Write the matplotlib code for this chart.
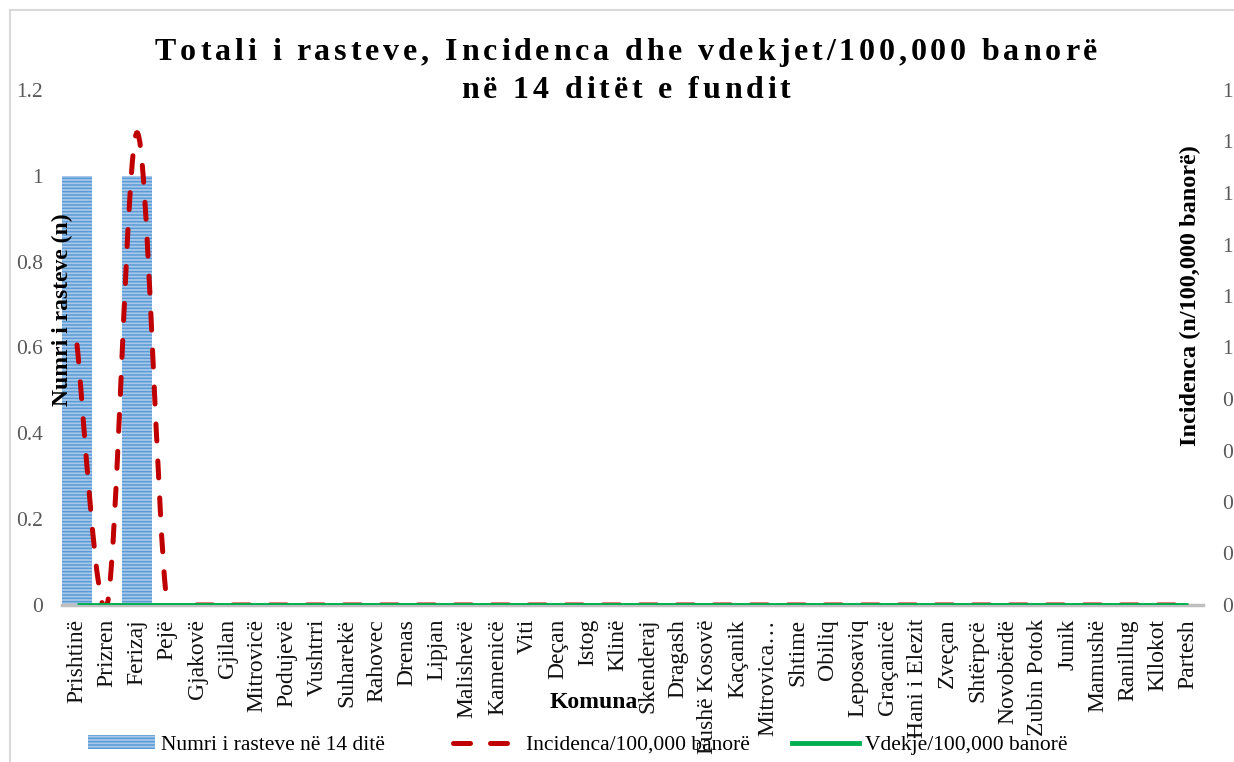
import matplotlib
matplotlib.use("Agg")
import matplotlib.pyplot as plt
from matplotlib.path import Path
from matplotlib.patches import PathPatch, Rectangle, Patch
from matplotlib.lines import Line2D
from matplotlib.ticker import FuncFormatter
from matplotlib.font_manager import FontProperties, findfont
from matplotlib.ft2font import FT2Font
import numpy as np

# Komunat
komunat = ["Prishtinë", "Prizren", "Ferizaj", "Pejë", "Gjakovë", "Gjilan", "Mitrovicë",
           "Podujevë", "Vushtrri", "Suharekë", "Rahovec", "Drenas", "Lipjan", "Malishevë",
           "Kamenicë", "Viti", "Deçan", "Istog", "Klinë", "Skenderaj", "Dragash",
           "Fushë Kosovë", "Kaçanik", "Mitrovica…", "Shtime", "Obiliq", "Leposaviq",
           "Graçanicë", "Hani i Elezit", "Zveçan", "Shtërpcë", "Novobërdë", "Zubin Potok",
           "Junik", "Mamushë", "Ranillug", "Kllokot", "Partesh"]

# Numri i rasteve ne 14 dite
rastet = [1, 0, 1] + [0] * 35
# Incidenca / 100,000 banore
incidenca = [0.505, 0, 0.917] + [0] * 35
# Vdekje / 100,000 banore
vdekje = [0] * 38

left_ticks = [0, 0.2, 0.4, 0.6, 0.8, 1.0, 1.2]
right_ticks = [0, 0.1, 0.2, 0.3, 0.4, 0.5, 0.6, 0.7, 0.8, 0.9, 1.0]

title_lines = ["Totali i rasteve, Incidenca dhe vdekjet/100,000 banorë",
               "në 14 ditët e fundit"]

SERIF = ["Liberation Serif", "DejaVu Serif"]
plt.rcParams["font.family"] = SERIF
plt.rcParams["hatch.linewidth"] = 1.1

W, H = 1234, 762
DPI = 100
fig = plt.figure(figsize=(W / DPI, H / DPI), dpi=DPI)
ax = fig.add_axes([62 / W, 1 - 605 / H, (1203 - 62) / W, (605 - 90) / H])
ax2 = ax.twinx()

x = np.arange(len(komunat))

# bars (left axis)
ax.bar(x, rastet, width=0.98, color="#a7c8ea", edgecolor="#5b9bd5", linewidth=0,
       hatch="-----", zorder=2)
ax.set_xlim(-0.5, len(komunat) - 0.5)
ax.set_ylim(0, 1.2)
ax.set_yticks(left_ticks)
ax.yaxis.set_major_formatter(FuncFormatter(lambda v, p: f"{v:g}"))
ax.tick_params(axis="y", length=0, pad=13.5, labelsize=15.5, labelcolor="#595959")
ax.set_xticks(x)
ax.set_xticklabels(komunat, rotation=90, fontsize=17, color="#111111")
ax.tick_params(axis="x", length=0, pad=10)
for s in ["top", "left", "right"]:
    ax.spines[s].set_visible(False)
ax.spines["bottom"].set_color("#bfbfbf")
ax.spines["bottom"].set_linewidth(2.5)

# smoothed incidence line (right axis), bezier smoothing like Excel
yv = np.array(incidenca, dtype=float)
n = len(yv)
verts = [(x[0], yv[0])]
codes = [Path.MOVETO]
for i in range(n - 1):
    p0 = yv[max(i - 1, 0)]
    p3 = yv[min(i + 2, n - 1)]
    x0 = x[max(i - 1, 0)]
    x3 = x[min(i + 2, n - 1)]
    c1 = (x[i] + (x[i + 1] - x0) / 6, yv[i] + (yv[i + 1] - p0) / 6)
    c2 = (x[i + 1] - (x3 - x[i]) / 6, yv[i + 1] - (p3 - yv[i]) / 6)
    verts += [c1, c2, (x[i + 1], yv[i + 1])]
    codes += [Path.CURVE4] * 3
red_dash = (0, (3.4, 4.0))
curve = PathPatch(Path(verts, codes), facecolor="none", edgecolor="#c00000",
                  linewidth=3.6, linestyle=red_dash, capstyle="round", zorder=3)
ax2.add_patch(curve)
ax2.plot(x, vdekje, color="#00b050", linewidth=3.5, solid_capstyle="butt", zorder=4)
ax2.set_ylim(0, 1.0)
ax2.set_yticks(right_ticks)
ax2.yaxis.set_major_formatter(FuncFormatter(lambda v, p: str(int(np.floor(v + 0.5 + 1e-9)))))
ax2.tick_params(axis="y", length=0, pad=13.5, labelsize=15.5, labelcolor="#595959")
for s in ["top", "left", "right", "bottom"]:
    ax2.spines[s].set_visible(False)

# axis titles (placed like in the original)
fig.text(62 / W, 1 - 310 / H, "Numri i rasteve (n)", rotation=90, ha="center", va="center",
         fontsize=17, fontweight="bold")
fig.text(1190 / W, 1 - 296 / H, "Incidenca (n/100,000 banorë)", rotation=90, ha="center",
         va="center", fontsize=17.5, fontweight="bold")
fig.text(594 / W, 1 - 703 / H, "Komuna", ha="center", va="center", fontsize=17,
         fontweight="bold")

# title with letter spacing (chars placed one by one)
tsize = 23
tprops = FontProperties(family="Liberation Serif", weight="bold", size=tsize)
tfont = FT2Font(findfont(tprops))
tfont.set_size(tsize, DPI)


def advances(s):
    return [tfont.load_char(ord(c)).linearHoriAdvance / 65536 for c in s]


adv0 = advances(title_lines[0])
track = (942 - sum(adv0)) / (len(title_lines[0]) - 1)
for line, yc in zip(title_lines, [49, 87]):
    adv = advances(line)
    total = sum(adv) + track * (len(line) - 1)
    xp = 626 - total / 2
    for c, a in zip(line, adv):
        if c != " ":
            fig.text(xp / W, 1 - yc / H, c, ha="left", va="center_baseline",
                     fontproperties=tprops)
        xp += a + track

# legend entries
h_bar = Patch(facecolor="#a7c8ea", edgecolor="#5b9bd5", linewidth=0, hatch="-----")
h_inc = Line2D([], [], color="#c00000", linewidth=3.6, linestyle=red_dash,
               dash_capstyle="round")
h_vd = Line2D([], [], color="#00b050", linewidth=3.5)
entries = [(h_bar, "Numri i rasteve në 14 ditë", 88),
           (h_inc, "Incidenca/100,000 banorë", 453),
           (h_vd, "Vdekje/100,000 banorë", 792)]
for h, lab, xl in entries:
    fig.legend([h], [lab], loc="center left", bbox_to_anchor=(xl / W, 1 - 745 / H),
               frameon=False, borderpad=0, borderaxespad=0, fontsize=15.5,
               handlelength=3.1, handletextpad=0.3, handleheight=0.6)

# outer chart border
fig.add_artist(Rectangle((10 / W, -0.05), 1.1, 1 - 10 / H + 0.05, transform=fig.transFigure,
                         fill=False, edgecolor="#d9d9d9", linewidth=1.5))

fig.savefig("out.png", dpi=DPI)
